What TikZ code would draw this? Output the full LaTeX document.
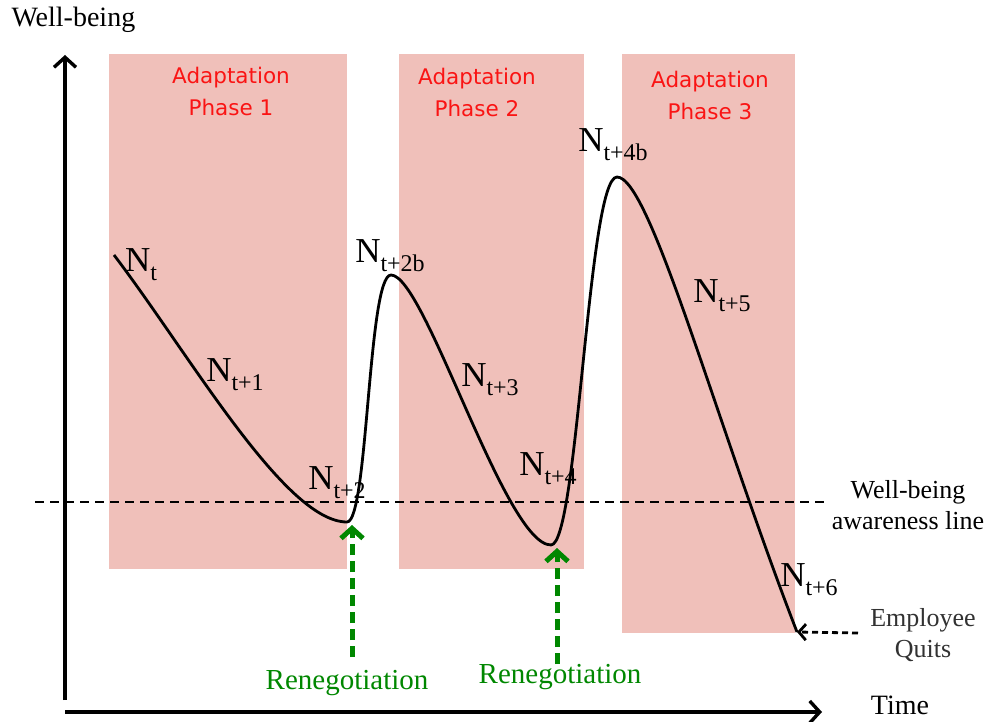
\documentclass[tikz,border=0pt]{standalone}
\usepackage{fontspec}
\setmainfont{Liberation Serif}
\newfontfamily\phasefont{DejaVu Sans}
\usetikzlibrary{arrows.meta,positioning}
\definecolor{phasepink}{RGB}{240,192,186}
\definecolor{phasered}{RGB}{250,20,20}
\definecolor{renegreen}{RGB}{0,135,0}
\definecolor{quitgray}{RGB}{50,50,50}
\newcommand{\Nsub}[1]{N\raisebox{-0.55ex}{\fontsize{24}{24}\selectfont #1}}

\begin{document}
\begin{tikzpicture}[x=1pt,y=-1pt,>={Straight Barb[length=10pt,width=22pt]},
  phase/.style={fill=phasepink,draw=none},
  phaselabel/.style={text=phasered,align=center,font=\phasefont\fontsize{21.5}{32}\selectfont},
  nlabel/.style={font=\fontsize{35}{35}\selectfont,inner sep=0pt},
  plain/.style={font=\fontsize{28}{31}\selectfont,align=center},
  sidelabel/.style={font=\fontsize{26}{31}\selectfont,align=center},
  renego/.style={renegreen,line width=5pt,dash pattern=on 11pt off 6pt},
  renelabel/.style={text=renegreen,font=\fontsize{29}{29}\selectfont}]
  \useasboundingbox (0,0) rectangle (989,722);

  % adaptation phases
  \fill[phase] (109,54) rectangle (347,569);
  \fill[phase] (399,54) rectangle (584,569);
  \fill[phase] (622,54) rectangle (795,633);
  \node[phaselabel] (ph1) at (231,91) {Adaptation\\Phase 1};
  \node[phaselabel] (ph2) at (477,92) {Adaptation\\Phase 2};
  \node[phaselabel] (ph3) at (710,95) {Adaptation\\Phase 3};

  % axes
  \coordinate (origin) at (65,712);
  \coordinate (ytip) at (65,55);
  \coordinate (xtip) at (822,712);
  \draw[->,line width=3.4pt] (65,700) -- (ytip);
  \draw[->,line width=3.4pt] (origin) -- (xtip);
  \node[plain,anchor=west] (ylab) at (8,20) {Well-being};
  \node[plain] (xlab) at (900,705) {Time};

  % awareness line
  \coordinate (aw1) at (35,502);
  \coordinate (aw2) at (826,502);
  \draw[line width=2.4pt,dash pattern=on 9pt off 6pt] (aw1) -- (aw2);
  \node[sidelabel] (awlab) at (908,505) {Well-being\\awareness line};

  % well-being curve
  \coordinate (p0) at (114,255);
  \coordinate (p1) at (347,522);
  \coordinate (p2) at (391,275);
  \coordinate (p3) at (551,545);
  \coordinate (p4) at (617,177);
  \coordinate (p5) at (797,632);
  \draw[line width=2.8pt]
    (p0) .. controls (190,355) and (285,522) .. (p1)
         .. controls (368,522) and (368,275) .. (p2)
         .. controls (425,275) and (505,545) .. (p3)
         .. controls (578,545) and (588,177) .. (p4)
         .. controls (650,177) and (715,420) .. (p5);

  \node[nlabel] (nt) at (141,265) {\Nsub{t}};
  \node[nlabel] (nt1) at (235,375) {\Nsub{t+1}};
  \node[nlabel] (nt2) at (337,483) {\Nsub{t+2}};
  \node[nlabel] (nt2b) at (390,256) {\Nsub{t+2b}};
  \node[nlabel] (nt3) at (490,380) {\Nsub{t+3}};
  \node[nlabel] (nt4) at (548,469) {\Nsub{t+4}};
  \node[nlabel] (nt4b) at (613,145) {\Nsub{t+4b}};
  \node[nlabel] (nt5) at (722,296) {\Nsub{t+5}};
  \node[nlabel] (nt6) at (809,580) {\Nsub{t+6}};

  % renegotiations
  \coordinate (r1) at (352,657);
  \coordinate (r2) at (557,664);
  \draw[->,renego] (r1) -- (352,525);
  \draw[->,renego] (r2) -- (557,548);
  \node[renelabel] (rl1) at (347,683) {Renegotiation};
  \node[renelabel] (rl2) at (560,677) {Renegotiation};

  % quitting
  \coordinate (q1) at (858,633);
  \draw[->,line width=2.8pt,dash pattern=on 6pt off 4pt,>={Straight Barb[length=7pt,width=16pt]}] (q1) -- (p5);
  \node[sidelabel,text=quitgray] (quit) at (923,635) {Employee\\Quits};
\end{tikzpicture}
\end{document}
